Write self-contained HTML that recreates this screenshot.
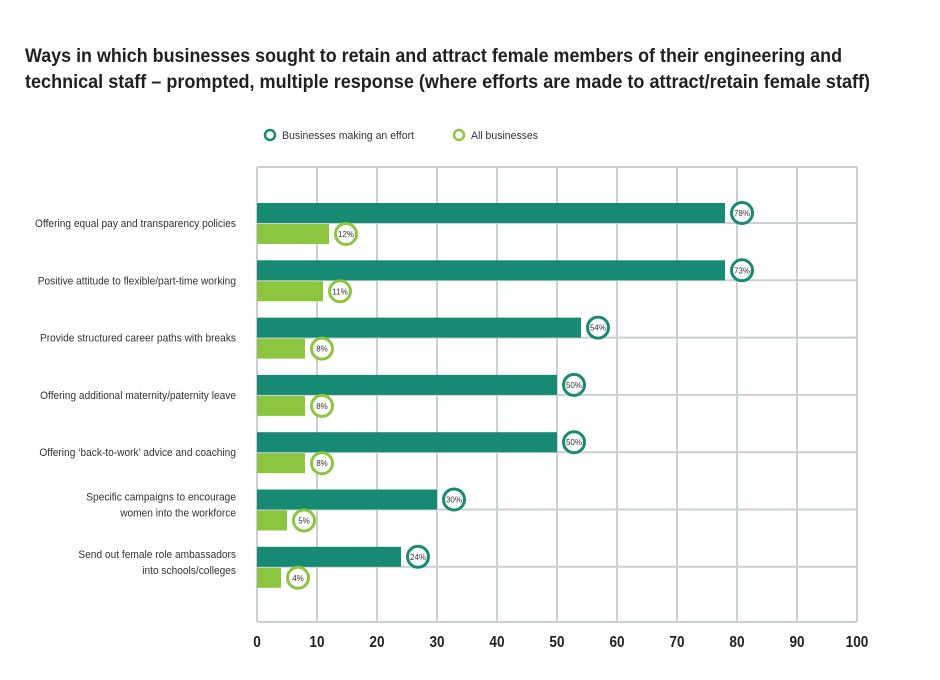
<!DOCTYPE html>
<html><head><meta charset="utf-8"><style>
body{margin:0;background:#fff;}
svg{display:block;font-family:"Liberation Sans Narrow","Liberation Sans",sans-serif;}
</style></head><body>
<svg id="chart" width="940" height="680" viewBox="0 0 940 680">
<text x="25" y="62" font-size="19" font-weight="bold" fill="#231f20" textLength="817" lengthAdjust="spacingAndGlyphs">Ways in which businesses sought to retain and attract female members of their engineering and</text>
<text x="25" y="88" font-size="19" font-weight="bold" fill="#231f20" textLength="845" lengthAdjust="spacingAndGlyphs">technical staff – prompted, multiple response (where efforts are made to attract/retain female staff)</text>
<g>
<circle cx="270" cy="135" r="5" fill="#fff" stroke="#168a72" stroke-width="2.5"/>
<text x="282" y="139" font-size="11" fill="#333" textLength="132" lengthAdjust="spacingAndGlyphs">Businesses making an effort</text>
<circle cx="459" cy="135" r="5" fill="#fff" stroke="#8cc63f" stroke-width="2.5"/>
<text x="471" y="139" font-size="11" fill="#333" textLength="67" lengthAdjust="spacingAndGlyphs">All businesses</text>
</g>
<g id="grid"></g><g id="bars"></g><g id="labels"></g>
<g id="catlabels" transform="translate(236,0) scale(0.885,1)"></g>
</svg>
<script>
const categories=["Offering equal pay and transparency policies","Positive attitude to flexible/part-time working","Provide structured career paths with breaks","Offering additional maternity/paternity leave","Offering ‘back-to-work’ advice and coaching","Specific campaigns to encourage|women into the workforce","Send out female role ambassadors|into schools/colleges"];
const effortValues=[78,78,54,50,50,30,24];
const effortLabels=["78%","73%","54%","50%","50%","30%","24%"];
const allValues=[12,11,8,8,8,5,4];
const allLabels=["12%","11%","8%","8%","8%","5%","4%"];
const ticks=[0,10,20,30,40,50,60,70,80,90,100];
const NS="http://www.w3.org/2000/svg";
const X0=257,X1=857,TOP=167,BOT=622,ROW0=223,ROWH=57.3;
function x(v){return X0+(X1-X0)*v/100;}
function rowY(i){return ROW0+i*ROWH;}
function mk(tag,attrs,parent){const e=document.createElementNS(NS,tag);for(const k in attrs)e.setAttribute(k,attrs[k]);parent.appendChild(e);return e;}
const grid=document.getElementById('grid'),bars=document.getElementById('bars'),labels=document.getElementById('labels'),catl=document.getElementById('catlabels');
ticks.forEach((t)=>{
  const l=mk('line',{x1:x(t),x2:x(t),y1:TOP,y2:BOT,stroke:'#c9d1d5','stroke-width':2},grid);
  
  
  const tx=mk('text',{x:x(t),y:647,'text-anchor':'middle','font-size':16,'font-weight':'bold',fill:'#231f20',transform:'translate('+x(t)+',0) scale(0.85,1) translate('+(-x(t))+',0)'},labels);
  tx.textContent=t;
  
  
});
const hl=[TOP,BOT];categories.forEach((c,i)=>hl.push(rowY(i)));
hl.forEach((y)=>{
  const l=mk('line',{x1:X0,x2:X1,y1:y,y2:y,stroke:'#c9d1d5','stroke-width':2},grid);
  
  
});
categories.forEach((c,i)=>{
  const y=rowY(i);
  const b1=mk('rect',{x:X0,y:y-20,width:x(effortValues[i])-X0,height:20,fill:'#168a72'},bars);
  
  
  const b2=mk('rect',{x:X0,y:y+1,width:x(allValues[i])-X0,height:20,fill:'#8cc63f'},bars);
  
  
  const c1=mk('circle',{cx:x(effortValues[i])+17,cy:y-10,r:10.5,fill:'#fff',stroke:'#168a72','stroke-width':3},bars);
  
  
  const t1=mk('text',{x:x(effortValues[i])+17,y:y-7,'text-anchor':'middle','font-size':8,fill:'#333'},bars);
  t1.textContent=effortLabels[i];
  
  
  const c2=mk('circle',{cx:x(allValues[i])+17,cy:y+11,r:10.5,fill:'#fff',stroke:'#8cc63f','stroke-width':3},bars);
  
  
  const t2=mk('text',{x:x(allValues[i])+17,y:y+14,'text-anchor':'middle','font-size':8,fill:'#333'},bars);
  t2.textContent=allLabels[i];
  
  
  const parts=c.split('|');
  parts.forEach((p,j)=>{
    const ty=parts.length===1?y+4:y-9+j*16;
    const t=mk('text',{x:0,y:ty,'text-anchor':'end','font-size':11.5,fill:'#333'},catl);
    t.textContent=p;
    
    
  });
});
</script>
</body></html>
